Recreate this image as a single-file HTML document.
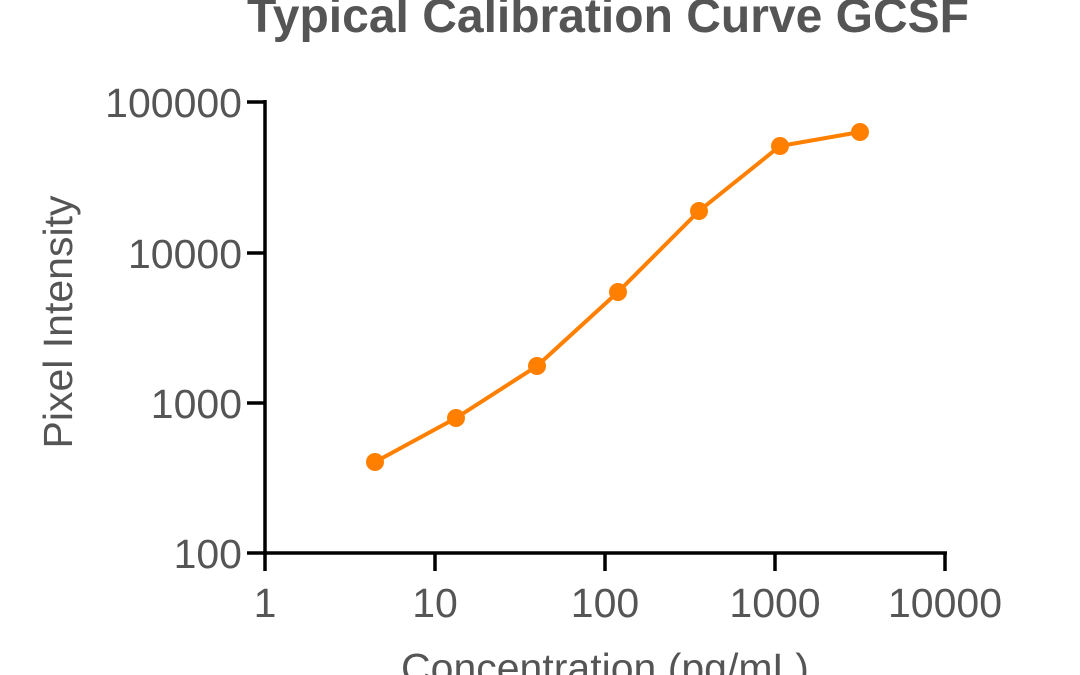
<!DOCTYPE html>
<html><head><style>
html,body{margin:0;padding:0;background:#fff;}
svg{display:block;}
text{font-family:"Liberation Sans",Arial,sans-serif;fill:#555;}
</style></head><body>
<svg width="1080" height="675" viewBox="0 0 1080 675" xmlns="http://www.w3.org/2000/svg">
<text x="608" y="32" font-size="48" font-weight="bold" text-anchor="middle">Typical Calibration Curve GCSF</text>
<g stroke="#000" stroke-width="3.5" fill="none">
<line x1="265" y1="100" x2="265" y2="555"/>
<line x1="263" y1="553" x2="947" y2="553"/>
<line x1="247" y1="102" x2="265" y2="102"/>
<line x1="247" y1="253" x2="265" y2="253"/>
<line x1="247" y1="403" x2="265" y2="403"/>
<line x1="247" y1="553" x2="265" y2="553"/>
<line x1="265" y1="553" x2="265" y2="571"/>
<line x1="435" y1="553" x2="435" y2="571"/>
<line x1="605" y1="553" x2="605" y2="571"/>
<line x1="775" y1="553" x2="775" y2="571"/>
<line x1="945" y1="553" x2="945" y2="571"/>
</g>
<g font-size="41" text-anchor="end">
<text x="242" y="117">100000</text>
<text x="242" y="268">10000</text>
<text x="242" y="418">1000</text>
<text x="242" y="568">100</text>
</g>
<g font-size="41" text-anchor="middle">
<text x="265" y="617">1</text>
<text x="435" y="617">10</text>
<text x="605" y="617">100</text>
<text x="775" y="617">1000</text>
<text x="945" y="617">10000</text>
</g>
<text x="605" y="682" font-size="41" text-anchor="middle">Concentration (pg/mL)</text>
<text transform="translate(72,322) rotate(-90)" font-size="41" text-anchor="middle">Pixel Intensity</text>
<polyline points="375,462 456,418 537,366 618,292 699,211 780,146 860,132" fill="none" stroke="#ff8000" stroke-width="4"/>
<g fill="#ff8000">
<circle cx="375" cy="462" r="9"/><circle cx="456" cy="418" r="9"/><circle cx="537" cy="366" r="9"/>
<circle cx="618" cy="292" r="9"/><circle cx="699" cy="211" r="9"/><circle cx="780" cy="146" r="9"/>
<circle cx="860" cy="132" r="9"/>
</g>
</svg>
</body></html>
